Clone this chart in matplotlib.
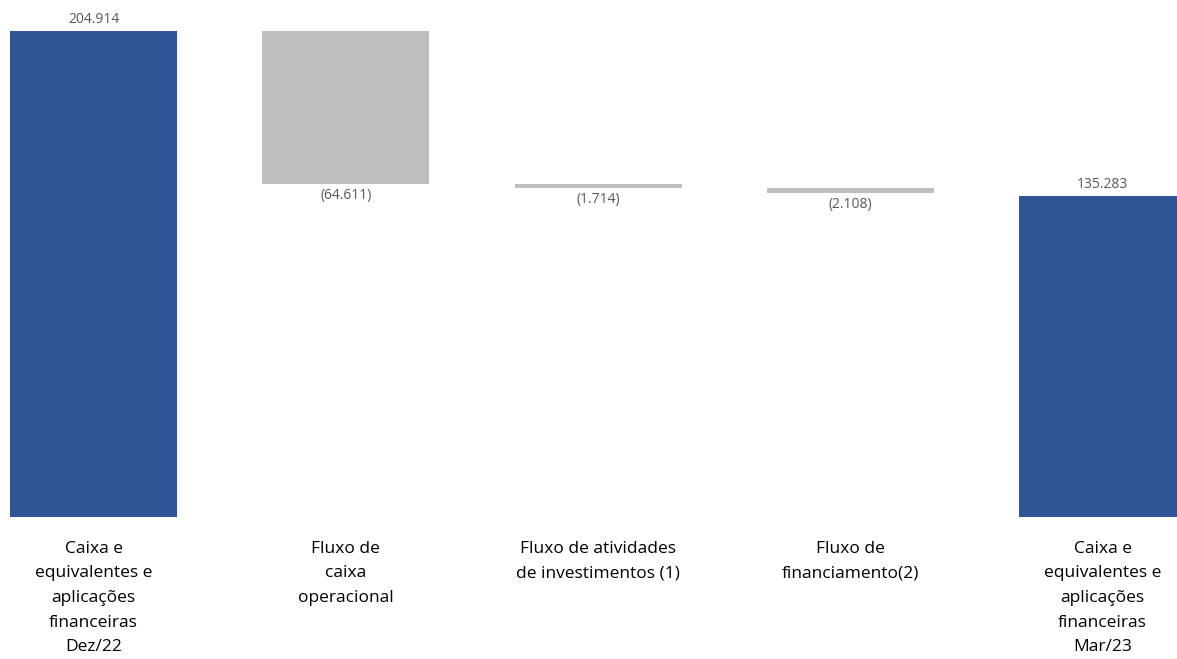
import matplotlib.pyplot as plt
import numpy as np

# Chart data
categories = [
    "Caixa e\nequivalentes e\naplicações\nfinanceiras\nDez/22",
    "Fluxo de\ncaixa\noperacional",
    "Fluxo de atividades\nde investimentos (1)",
    "Fluxo de\nfinanciamento(2)",
    "Caixa e\nequivalentes e\naplicações\nfinanceiras\nMar/23",
]
values = [204914, -64611, -1714, -2108, 135283]
is_total = [True, False, False, False, True]

blue = "#2F5597"
grey = "#BFBFBF"
label_grey = "#595959"


def fmt(v):
    s = f"{abs(v):,}".replace(",", ".")
    return f"({s})" if v < 0 else s


# Waterfall bottoms / heights
bottoms = []
heights = []
running = 0
for v, tot in zip(values, is_total):
    if tot:
        bottoms.append(0)
        heights.append(v)
        running = v
    else:
        running_new = running + v
        bottoms.append(running_new)
        heights.append(-v)
        running = running_new

plt.rcParams['font.family'] = ['Open Sans', 'DejaVu Sans']

fig = plt.figure(figsize=(11.77, 6.59), dpi=100)
W, H = 1177, 659
ax = fig.add_axes([10 / W, (H - 517) / H, (1177 - 10) / W, (517 - 31) / H])

x = np.arange(len(values))
colors = [blue if t else grey for t in is_total]
ax.bar(x, heights, bottom=bottoms, width=0.662, color=colors)

ax.set_xlim(-0.331, 4.295)
ax.set_ylim(0, values[0])

for xi, v, b, h, tot in zip(x, values, bottoms, heights, is_total):
    if tot:
        ax.annotate(fmt(v), (xi, b + h), xytext=(0, 3), textcoords="offset points",
                    ha="center", va="bottom", fontsize=10, color=label_grey,
                    annotation_clip=False)
    else:
        ax.annotate(fmt(v), (xi, b), xytext=(0, -3), textcoords="offset points",
                    ha="center", va="top", fontsize=10, color=label_grey,
                    annotation_clip=False)

ax.set_xticks(x)
ax.set_xticklabels(categories, fontsize=12.5, color="black", linespacing=1.72)
ax.tick_params(axis="x", length=0, pad=17)
ax.set_yticks([])
for s in ax.spines.values():
    s.set_visible(False)

fig.savefig("out.png", dpi=100)
